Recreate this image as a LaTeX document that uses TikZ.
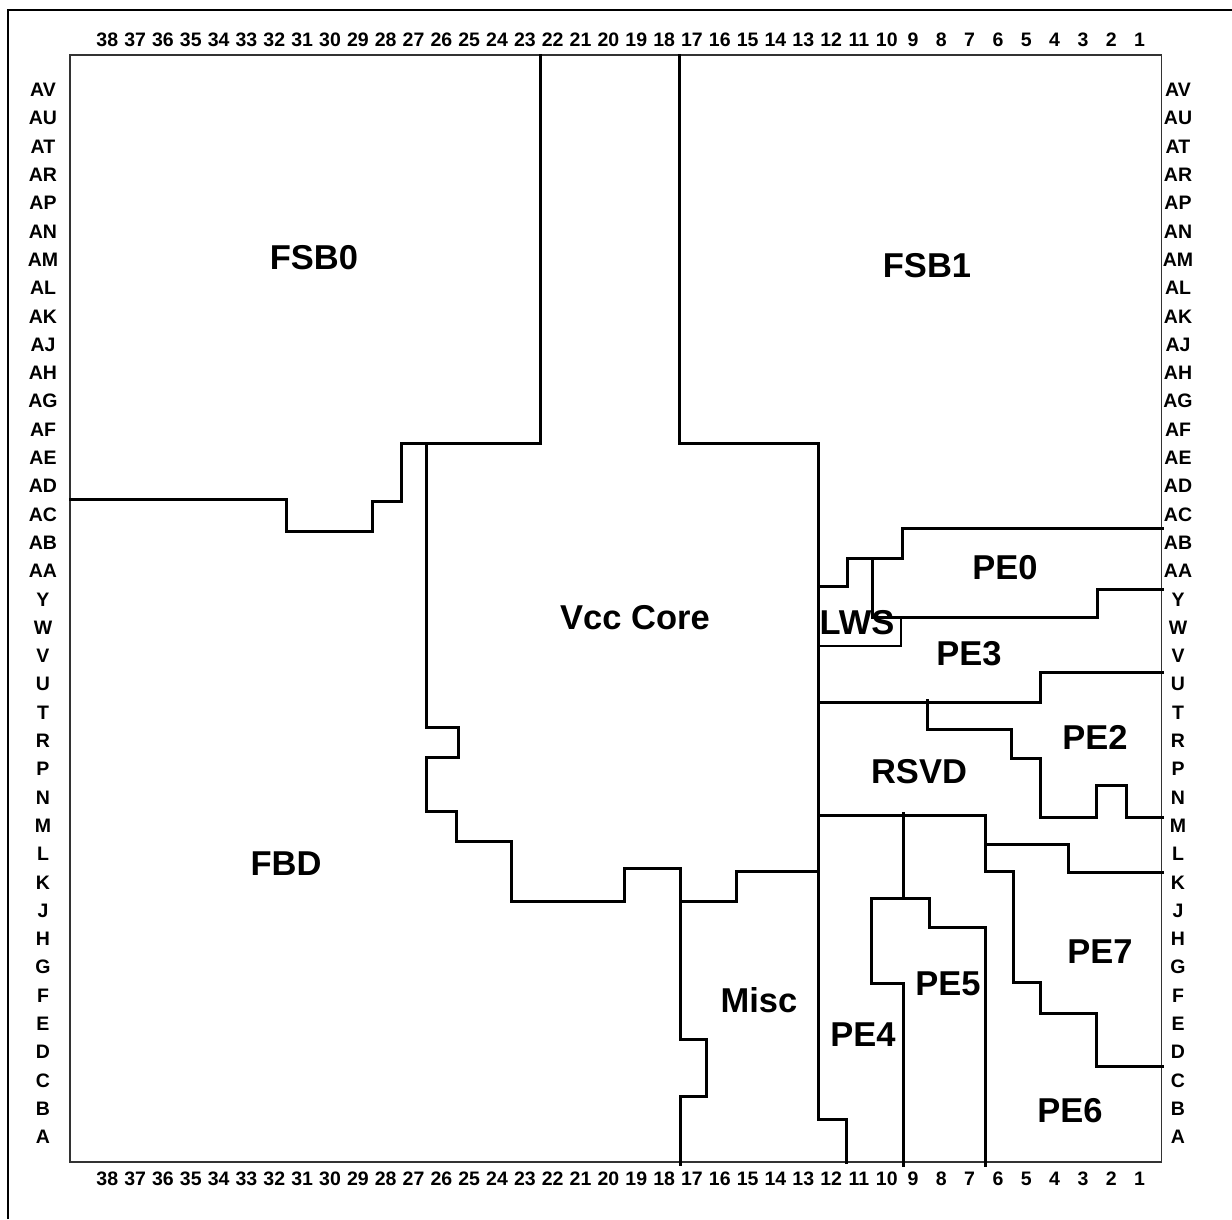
\documentclass[tikz,border=0pt]{standalone}
\usepackage{fontspec}
\setmainfont{Liberation Sans}
\begin{document}
\begin{tikzpicture}[x=1pt,y=-1pt,
  wall/.style={line width=3pt, line join=miter, line cap=rect},
  thinwall/.style={line width=2.2pt, line join=miter},
  frame/.style={line width=2.8pt},
  die/.style={line width=1.3pt, draw=black!80},
  pin/.style={inner sep=0pt, font=\fontsize{19.5}{20}\selectfont\bfseries},
  region/.style={inner sep=0pt, font=\fontsize{34.5}{36}\selectfont\bfseries}]
\useasboundingbox (0,0) rectangle (1232,1219);
% outer frame (left and top)
\draw[frame] (8,1219) -- (8,10) -- (1232,10);
% die outline
\draw[die] (70,55) rectangle (1161.5,1162);
% column labels
\foreach \n in {38,37,...,10} {
  \node[pin] (ct\n) at ({107.3+(38-\n)*27.84},40) {\n};
  \node[pin] (cb\n) at ({107.3+(38-\n)*27.84},1179) {\n};
}
\foreach \n in {9,8,...,1} {
  \node[pin] (ct\n) at ({913+(9-\n)*28.33},40) {\n};
  \node[pin] (cb\n) at ({913+(9-\n)*28.33},1179) {\n};
}
% row labels
\foreach \r [count=\i from 0] in {AV,AU,AT,AR,AP,AN,AM,AL,AK,AJ,AH,AG,AF,AE,AD,AC,AB,AA,Y,W,V,U,T,R,P,N,M,L,K,J,H,G,F,E,D,C,B,A} {
  \node[pin] (rl\i) at (43,{90+\i*28.297}) {\r};
  \node[pin] (rr\i) at (1178,{90+\i*28.297}) {\r};
}
% region boundaries
\draw[wall] (540,55) -- (540,443) -- (401,443) -- (401,501) -- (372,501) -- (372,531) -- (286,531) -- (286,499) -- (70,499);
\draw[wall] (426,443) -- (426,727) -- (458,727) -- (458,757) -- (426,757) -- (426,811) -- (456,811) -- (456,841) -- (511,841) -- (511,901) -- (624,901) -- (624,868) -- (680,868) -- (680,1039) -- (706,1039) -- (706,1096) -- (680,1096) -- (680,1164);
\draw[wall] (680,901) -- (736,901) -- (736,871) -- (818,871);
\draw[wall] (679,55) -- (679,443) -- (818,443) -- (818,1119) -- (846,1119) -- (846,1162);
\draw[wall] (818,586) -- (847,586) -- (847,558) -- (902,558) -- (902,528) -- (1162,528);
\draw[wall] (872,558) -- (872,617) -- (1097,617) -- (1097,589) -- (1162,589);
\draw[thinwall] (818,646) -- (901,646) -- (901,617);
\draw[wall] (818,702) -- (1040,702) -- (1040,672) -- (1162,672);
\draw[wall] (927,700) -- (927,729) -- (1011,729) -- (1011,758) -- (1040,758) -- (1040,817) -- (1096,817) -- (1096,785) -- (1126,785) -- (1126,817) -- (1162,817);
\draw[wall] (818,815) -- (985,815) -- (985,871) -- (1013,871) -- (1013,982) -- (1040,982) -- (1040,1013) -- (1096,1013) -- (1096,1066) -- (1162,1066);
\draw[wall] (985,844) -- (1068,844) -- (1068,872) -- (1162,872);
\draw[wall] (903,813) -- (903,898);
\draw[wall] (871,898) -- (929,898) -- (929,927) -- (985,927) -- (985,1165);
\draw[wall] (871,898) -- (871,983) -- (903,983) -- (903,1165);
% region names
\node[region] (fsb0) at (314,258) {FSB0};
\node[region] (fsb1) at (927,266) {FSB1};
\node[region] (vcc) at (635,618) {Vcc Core};
\node[region] (fbd) at (286,864) {FBD};
\node[region] (misc) at (759,1000) {Misc};
\node[region] (lws) at (857,623) {LWS};
\node[region] (pe0) at (1005,568) {PE0};
\node[region] (pe3) at (969,654) {PE3};
\node[region] (pe2) at (1095,737) {PE2};
\node[region] (rsvd) at (919,772) {RSVD};
\node[region] (pe7) at (1100,952) {PE7};
\node[region] (pe5) at (948,984) {PE5};
\node[region] (pe4) at (863,1035) {PE4};
\node[region] (pe6) at (1070,1111) {PE6};
\end{tikzpicture}
\end{document}
